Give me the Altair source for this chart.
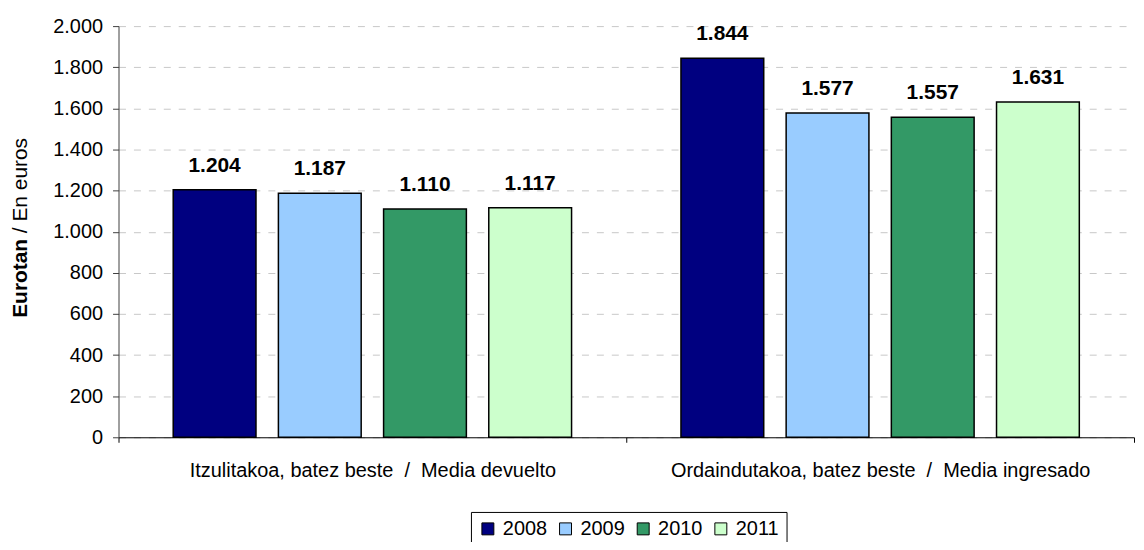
import altair as alt
import pandas as pd

groups = [
    "Itzulitakoa, batez beste \u00a0/\u00a0 Media devuelto",
    "Ordaindutakoa, batez beste \u00a0/\u00a0 Media ingresado",
]
years = ["2008", "2009", "2010", "2011"]
devuelto = [1204, 1187, 1110, 1117]
ingresado = [1844, 1577, 1557, 1631]
colors = ["#000080", "#99CCFF", "#339966", "#CCFFCC"]
y_ticks = list(range(0, 2001, 200))

rows = []
for y, v in zip(years, devuelto):
    rows.append({"group": groups[0], "year": y, "value": v})
for y, v in zip(years, ingresado):
    rows.append({"group": groups[1], "year": y, "value": v})
df = pd.DataFrame(rows)

FONT = "Liberation Sans"

x_enc = alt.X(
    "group:N",
    sort=groups,
    title=None,
    scale=alt.Scale(paddingInner=0, paddingOuter=0),
    axis=alt.Axis(
        labelAngle=0,
        labelFontSize=20,
        labelColor="black",
        labelPadding=18,
        tickBand="extent",
        tickSize=5,
        tickColor="black",
        domainColor="black",
        labelLimit=600,
    ),
)
xoff = alt.XOffset(
    "year:N",
    sort=years,
    scale=alt.Scale(paddingInner=0.213, paddingOuter=0.52),
)
y_enc = alt.Y(
    "value:Q",
    title=None,
    scale=alt.Scale(domain=[0, 2000], nice=False),
    axis=alt.Axis(
        values=y_ticks,
        labelExpr="replace(format(datum.value, ','), ',', '.')",
        labelFontSize=20,
        labelColor="black",
        labelPadding=10,
        tickSize=6,
        tickColor="#404040",
        domainColor="#404040",
        grid=True,
        gridColor="#c8c8c8",
        gridDash=[7, 8],
    ),
)

base = alt.Chart(df)

bars = base.mark_bar(stroke="black", strokeWidth=1.5).encode(
    x=x_enc,
    xOffset=xoff,
    y=y_enc,
    fill=alt.Fill(
        "year:N",
        sort=years,
        scale=alt.Scale(domain=years, range=colors),
        title=None,
        legend=alt.Legend(
            orient="none",
            legendX=354,
            legendY=488,
            direction="horizontal",
            strokeColor="black",
            padding=7,
            symbolType="square",
            symbolSize=144,
            symbolStrokeColor="black",
            symbolStrokeWidth=1,
            labelFontSize=20,
            labelColor="black",
            labelOffset=5,
            columnPadding=8,
        ),
    ),
)

labels = base.transform_calculate(
    lbl="replace(format(datum.value, ','), ',', '.')"
).mark_text(
    fontSize=21, fontWeight="bold", baseline="alphabetic", dy=-18, color="black", font=FONT
).encode(
    x=alt.X("group:N", sort=groups),
    xOffset=alt.XOffset("year:N", sort=years),
    y="value:Q",
    text="lbl:N",
)

t1 = alt.Chart(pd.DataFrame({"t": ["Eurotan"]})).mark_text(
    angle=270, align="left", baseline="middle", fontSize=21, fontWeight="bold", font=FONT, color="black"
).encode(x=alt.value(-98), y=alt.value(293), text="t:N")

t2 = alt.Chart(pd.DataFrame({"t": ["/ En euros"]})).mark_text(
    angle=270, align="left", baseline="middle", fontSize=21, font=FONT, color="black"
).encode(x=alt.value(-98), y=alt.value(208), text="t:N")

chart = alt.layer(bars, labels, t1, t2).properties(
    width=1020,
    height=413,
    autosize=alt.AutoSizeParams(type="none"),
    padding={"left": 111, "top": 17, "right": 2, "bottom": 104},
).configure(font=FONT).configure_view(stroke=None)

chart.save("out.html", embed_options={"renderer": "svg", "actions": False})
